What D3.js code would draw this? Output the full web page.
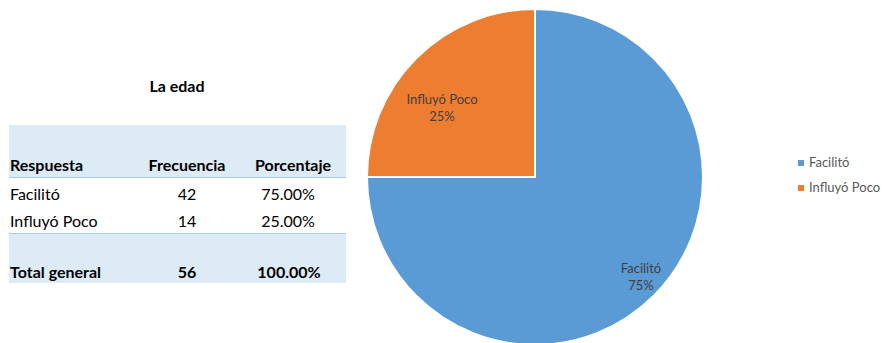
<!DOCTYPE html>
<html><head><meta charset="utf-8">
<script src="https://cdn.jsdelivr.net/npm/d3@7"></script>
<style>body{margin:0;background:#fff}svg{display:block;font-family:Lato,'Open Sans',sans-serif}</style>
</head><body><svg id="c" width="883" height="343"></svg>
<script>
const categories = ["Facilitó", "Influyó Poco"];
const values = [42, 14];
const percents = ["75.00%", "25.00%"];
const labelPct = ["75%", "25%"];
const colors = ["#5B9BD5", "#ED7D31"];
const headers = ["Respuesta", "Frecuencia", "Porcentaje"];
const totalRow = ["Total general", "56", "100.00%"];
const title = "La edad";

const svg = d3.select("#c");

// Title
svg.append("text").attr("x", 177).attr("y", 92).attr("text-anchor", "middle")
  .attr("font-size", 16).attr("font-weight", "bold").attr("fill", "#000").text(title);

// Table
const tx0 = 9, tx1 = 346;
svg.append("rect").attr("x", tx0).attr("y", 125).attr("width", tx1 - tx0).attr("height", 52).attr("fill", "#DDEBF7");
svg.append("line").attr("x1", tx0).attr("x2", tx1).attr("y1", 177.5).attr("y2", 177.5).attr("stroke", "#A9CBEA").attr("stroke-width", 1);
svg.append("rect").attr("x", tx0).attr("y", 233).attr("width", tx1 - tx0).attr("height", 50).attr("fill", "#DDEBF7");
svg.append("line").attr("x1", tx0).attr("x2", tx1).attr("y1", 233.5).attr("y2", 233.5).attr("stroke", "#A9CBEA").attr("stroke-width", 1);

const colX = [10, 187, 293];
const anchors = ["start", "middle", "middle"];
headers.forEach((h, i) => {
  svg.append("text").attr("x", colX[i]).attr("y", 171).attr("text-anchor", anchors[i])
    .attr("font-size", 16).attr("font-weight", "bold").attr("fill", "#000").text(h);
});
categories.forEach((c, r) => {
  const y = 200 + r * 27;
  [c, String(values[r]), percents[r]].forEach((t, i) => {
    svg.append("text").attr("x", i === 2 ? 288 : colX[i]).attr("y", y).attr("text-anchor", anchors[i])
      .attr("font-size", 16).attr("fill", "#000").text(t);
  });
});
totalRow.forEach((t, i) => {
  svg.append("text").attr("x", i === 2 ? 289 : colX[i]).attr("y", 278).attr("text-anchor", anchors[i])
    .attr("font-size", 16).attr("font-weight", "bold").attr("fill", "#000").text(t);
});

// Pie
const cx = 535, cy = 177, R = 168;
const pie = d3.pie().sort(null).value(d => d)(values);
const arc = d3.arc().innerRadius(0).outerRadius(R);
const g = svg.append("g").attr("transform", `translate(${cx},${cy})`);
g.selectAll("path").data(pie).join("path")
  .attr("d", arc).attr("fill", (d, i) => colors[i])
  .attr("stroke", "#fff").attr("stroke-width", 2);

const labelPos = [[106, 96], [-93, -73]];
pie.forEach((d, i) => {
  const t = g.append("text").attr("text-anchor", "middle").attr("font-size", 13).attr("fill", "#404040");
  t.append("tspan").attr("x", labelPos[i][0]).attr("y", labelPos[i][1]).text(categories[i]);
  t.append("tspan").attr("x", labelPos[i][0]).attr("y", labelPos[i][1] + 17).text(labelPct[i]);
});

// Legend
categories.forEach((c, i) => {
  const y = 163 + i * 25;
  svg.append("rect").attr("x", 798).attr("y", y - 3).attr("width", 6).attr("height", 6).attr("fill", colors[i]);
  svg.append("text").attr("x", 809).attr("y", y + 4).attr("font-size", 13).attr("fill", "#595959").text(c);
});
</script></body></html>
